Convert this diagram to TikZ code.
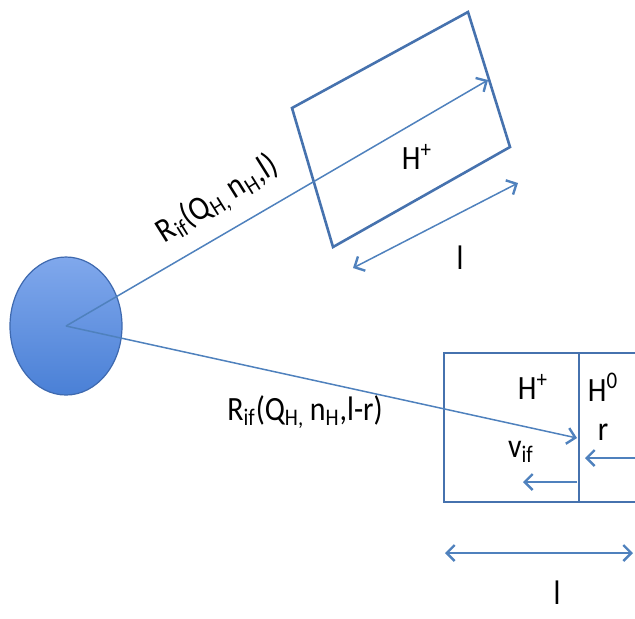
\documentclass[tikz,border=0pt]{standalone}
\usepackage{fontspec}
\setmainfont[FakeStretch=0.88]{Carlito}
\usetikzlibrary{shapes.geometric,arrows.meta}
\definecolor{lineblue}{RGB}{79,129,189}
\definecolor{boxblue}{RGB}{70,114,174}
\definecolor{ballrim}{RGB}{62,105,175}

\begin{document}
\begin{tikzpicture}[
  x=0.5pt, y=-0.5pt,
  font=\fontsize{17}{20}\selectfont,
  frame/.style={draw=boxblue, line width=1.3pt},
  barb/.tip={Straight Barb[length=4pt, width=8pt, line width=1.2pt]},
  arr/.style={-barb, draw=lineblue, line width=0.75pt},
  dim/.style={barb-barb, draw=lineblue, line width=0.75pt},
  lbl/.style={inner sep=1pt}
]
\useasboundingbox (0,0) rectangle (635,618);
\clip (0,0) rectangle (635,618);

% Source
\node[ellipse, draw=ballrim, line width=0.6pt, minimum width=56pt, minimum height=69pt,
  shading=axis, top color={rgb,255:red,128;green,168;blue,236},
  bottom color={rgb,255:red,74;green,128;blue,214}] (src) at (66,326) {};

% Upper slab (tilted)
\coordinate (u1) at (292,108);
\coordinate (u2) at (468,12);
\coordinate (u3) at (510,147);
\coordinate (u4) at (333,247);
\draw[frame] (u1) -- (u2) -- (u3) -- (u4) -- cycle;
\node[lbl] (hpa) at (417,157) {H\textsuperscript{+}};

% Lower slab
\coordinate (b1) at (444,353);
\coordinate (b2) at (579,353);
\coordinate (b3) at (579,502);
\coordinate (b4) at (444,502);
\draw[frame] (650,353) -- (b1) -- (b4) -- (650,502);
\draw[frame] (b2) -- (b3);
\node[lbl] (hpb) at (533,387) {H\textsuperscript{+}};
\node[lbl] (hzero) at (603,387) {H\textsuperscript{0}};
\node[lbl] (rlen) at (603,432) {r};
\node[lbl] (vif) at (521,452) {v\textsubscript{if}};

% Ranges
\coordinate (tipa) at (488,80);
\coordinate (tipb) at (577,438);
\draw[arr] (src.center) -- (tipa);
\draw[arr] (src.center) -- (tipb);
\node[lbl, rotate=32] (rangea) at (218,200) {R\textsubscript{if}(Q\textsubscript{H,}\,n\textsubscript{H},l)};
\node[lbl] (rangeb) at (305,412) {R\textsubscript{if}(Q\textsubscript{H,}\,n\textsubscript{H},l-r)};

% Front motion
\coordinate (ra) at (640,458);
\coordinate (rb) at (585,458);
\coordinate (va) at (577,482);
\coordinate (vb) at (523,482);
\draw[arr] (ra) -- (rb);
\draw[arr] (va) -- (vb);

% Lengths
\coordinate (da) at (353,268);
\coordinate (db) at (518,183);
\draw[dim] (da) -- (db);
\node[lbl] (la) at (460,258) {l};
\coordinate (dc) at (445,553);
\coordinate (dd) at (633,553);
\draw[dim] (dc) -- (dd);
\node[lbl] (lb) at (557,593) {l};
\end{tikzpicture}
\end{document}
